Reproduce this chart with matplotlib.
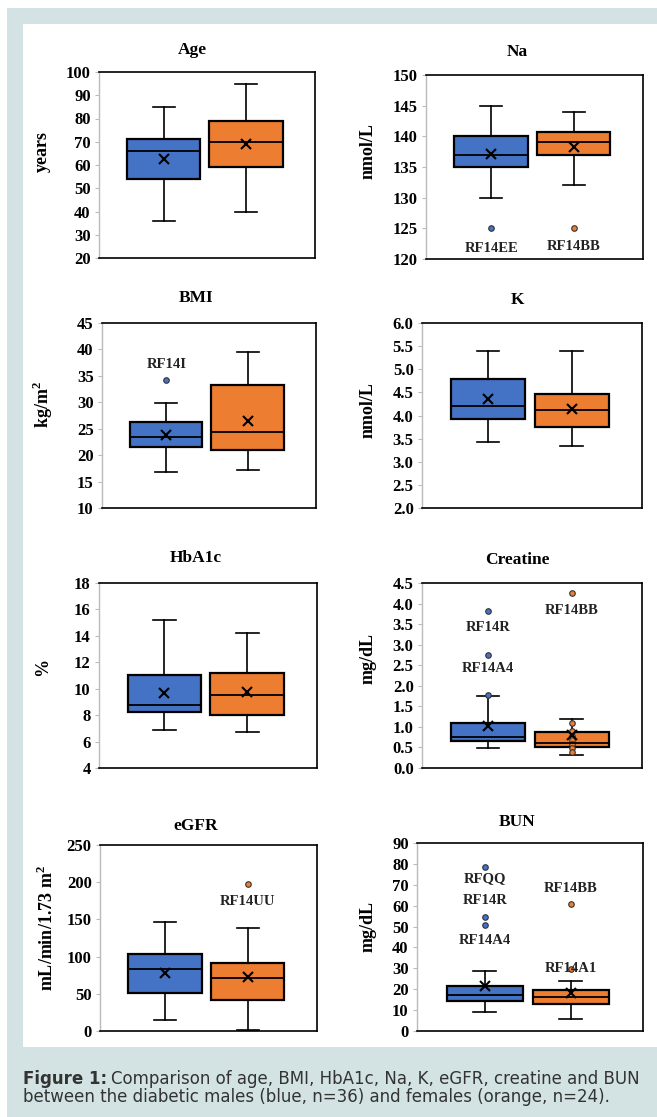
import numpy as np
import matplotlib
matplotlib.use("Agg")
import matplotlib.pyplot as plt
from matplotlib.patches import Rectangle

W, H = 657, 1117
DPI = 100

# --- data: [whisker low, Q1, median, Q3, whisker high, mean] ---
age_m = [36, 54, 66, 71, 85, 62.5]
age_f = [40, 59, 70, 79, 95, 69]
na_m = [130, 135, 137, 140, 145, 137.1]
na_f = [132, 137, 139, 140.7, 144, 138.3]
bmi_m = [16.8, 21.5, 23.4, 26.3, 29.9, 23.8]
bmi_f = [17.1, 21.0, 24.4, 33.2, 39.5, 26.4]
k_m = [3.42, 3.92, 4.21, 4.80, 5.39, 4.35]
k_f = [3.33, 3.75, 4.11, 4.46, 5.39, 4.15]
hba1c_m = [6.9, 8.26, 8.74, 11.06, 15.2, 9.7]
hba1c_f = [6.76, 8.04, 9.52, 11.16, 14.22, 9.78]
creat_m = [0.48, 0.665, 0.75, 1.10, 1.74, 1.03]
creat_f = [0.32, 0.51, 0.62, 0.87, 1.18, 0.81]
egfr_m = [14.8, 51.2, 83.9, 103.2, 146, 78.5]
egfr_f = [1.8, 41.3, 71.8, 92, 139, 72.7]
bun_m = [9.3, 14.6, 17.3, 21.6, 28.7, 21.5]
bun_f = [5.6, 12.8, 16.3, 19.4, 23.9, 18.3]

# outliers / shown points
na_out_m = [125.1]
na_out_f = [125]
bmi_out_m = [34.3]
creat_out_m = [1.78, 2.76, 3.83]
creat_out_f = [4.25, 1.09, 0.89, 0.79, 0.69, 0.59, 0.48, 0.38]
egfr_out_f = [197]
bun_out_m = [78.5, 54.6, 50.9]
bun_out_f = [60.9, 29.5]

# point labels: (text, group, value)
na_labels = [("RF14EE", 1, 121.7), ("RF14BB", 2, 122)]
bmi_labels = [("RF14I", 1, 37.2)]
creat_labels = [("RF14R", 1, 3.41), ("RF14A4", 1, 2.42), ("RF14BB", 2, 3.82)]
egfr_labels = [("RF14UU", 2, 173.7)]
bun_labels = [("RFQQ", 1, 72.9), ("RF14R", 1, 62.3), ("RF14A4", 1, 43.4),
              ("RF14BB", 2, 68.4), ("RF14A1", 2, 29.9)]

panels = [
    dict(title="Age", ylabel="years", m=age_m, f=age_f, om=[], of=[], labels=[],
         ylim=(20, 100), step=10, fmt="{:.0f}",
         rect=(99, 72, 315, 258), tpos=(192, 50), lpos=(42, 152)),
    dict(title="Na", ylabel="nmol/L", m=na_m, f=na_f, om=na_out_m, of=na_out_f, labels=na_labels,
         ylim=(120, 150), step=5, fmt="{:.0f}",
         rect=(426, 75, 643, 259), tpos=(517, 52), lpos=(368, 151)),
    dict(title="BMI", ylabel="kg/m$^\\mathbf{2}$", m=bmi_m, f=bmi_f, om=bmi_out_m, of=[], labels=bmi_labels,
         ylim=(10, 45), step=5, fmt="{:.0f}",
         rect=(102, 323, 316, 508), tpos=(196, 298), lpos=(43, 405)),
    dict(title="K", ylabel="nmol/L", m=k_m, f=k_f, om=[], of=[], labels=[],
         ylim=(2.0, 6.0), step=0.5, fmt="{:.1f}",
         rect=(422, 323, 642, 508), tpos=(517, 300), lpos=(368, 410)),
    dict(title="HbA1c", ylabel="%", m=hba1c_m, f=hba1c_f, om=[], of=[], labels=[],
         ylim=(4, 18), step=2, fmt="{:.0f}",
         rect=(99, 583, 317, 768), tpos=(196, 558), lpos=(43, 667)),
    dict(title="Creatine", ylabel="mg/dL", m=creat_m, f=creat_f, om=creat_out_m, of=creat_out_f,
         labels=creat_labels, ylim=(0, 4.5), step=0.5, fmt="{:.1f}",
         rect=(422, 583, 642, 768), tpos=(517, 560), lpos=(368, 659)),
    dict(title="eGFR", ylabel="mL/min/1.73 m$^\\mathbf{2}$", m=egfr_m, f=egfr_f, om=[], of=egfr_out_f,
         labels=egfr_labels, ylim=(0, 250), step=50, fmt="{:.0f}",
         rect=(100, 845, 317, 1031), tpos=(196, 826), lpos=(47, 928)),
    dict(title="BUN", ylabel="mg/dL", m=bun_m, f=bun_f, om=bun_out_m, of=bun_out_f, labels=bun_labels,
         ylim=(0, 90), step=10, fmt="{:.0f}",
         rect=(417, 843, 643, 1031), tpos=(517, 822), lpos=(368, 927)),
]

BLUE = "#4472C4"
ORANGE = "#ED7D31"
TEAL = "#d3e3e3"
SERIF = "Liberation Serif"

plt.rcParams["mathtext.fontset"] = "custom"
plt.rcParams["mathtext.bf"] = "Liberation Serif:bold"
plt.rcParams["mathtext.rm"] = "Liberation Serif"

fig = plt.figure(figsize=(W / DPI, H / DPI), dpi=DPI, facecolor="white")


def fx(x):
    return x / W


def fy(y):
    return 1 - y / H


# background: teal frame, white panel
fig.patches.append(Rectangle((fx(7), 0), 1 - fx(7), fy(8), transform=fig.transFigure,
                             facecolor=TEAL, edgecolor="none", zorder=-2))
fig.patches.append(Rectangle((fx(23), fy(1047)), 1 - fx(23), fy(24) - fy(1047),
                             transform=fig.transFigure, facecolor="white", edgecolor="none", zorder=-1))


def make_stats(v, out):
    return dict(whislo=v[0], q1=v[1], med=v[2], q3=v[3], whishi=v[4], mean=v[5], fliers=out)


for p in panels:
    l, t, r, b = p["rect"]
    ax = fig.add_axes([fx(l), fy(b), fx(r - l), (b - t) / H])
    stats = [make_stats(p["m"], p["om"]), make_stats(p["f"], p["of"])]
    bp = ax.bxp(stats, positions=[1, 2], widths=0.89, capwidths=0.27,
                showmeans=True, patch_artist=True,
                boxprops=dict(edgecolor="black", linewidth=1.6),
                medianprops=dict(color="black", linewidth=1.3),
                whiskerprops=dict(color="black", linewidth=1.2),
                capprops=dict(color="black", linewidth=1.2),
                meanprops=dict(marker="x", markeredgecolor="black", markersize=7,
                               markeredgewidth=1.5),
                flierprops=dict(marker="o", markersize=4, markeredgecolor="#333333",
                                markeredgewidth=0.8))
    for patch, c in zip(bp["boxes"], [BLUE, ORANGE]):
        patch.set_facecolor(c)
    for fl, c in zip(bp["fliers"], [BLUE, ORANGE]):
        fl.set_markerfacecolor(c)

    for text, g, val in p["labels"]:
        ax.text(g, val, text, ha="center", va="center", fontsize=10.5,
                fontfamily=SERIF, fontweight="bold", color="#222222")

    ax.set_xlim(0.21, 2.84)
    lo, hi = p["ylim"]
    ticks = np.arange(lo, hi + p["step"] / 2, p["step"])
    ax.set_ylim(lo, hi)
    ax.set_yticks(ticks)
    ax.set_yticklabels([p["fmt"].format(v) for v in ticks], fontfamily=SERIF,
                       fontweight="bold", fontsize=12)
    ax.set_xticks([])
    ax.tick_params(axis="y", length=3, width=0.8, color="#bbbbbb", pad=3)
    for s in ["top", "right", "bottom"]:
        ax.spines[s].set_color("black")
        ax.spines[s].set_linewidth(1.2)
    ax.spines["left"].set_color("#bbbbbb")
    ax.spines["left"].set_linewidth(1.0)

    fig.text(fx(p["tpos"][0]), fy(p["tpos"][1]), p["title"], ha="center", va="center",
             fontsize=12.5, fontfamily=SERIF, fontweight="bold")
    fig.text(fx(p["lpos"][0]), fy(p["lpos"][1]), p["ylabel"], ha="center", va="center",
             rotation=90, fontsize=13, fontfamily=SERIF, fontweight="bold")

# caption
CAP_FS = 12
CAP_FONT = "DejaVu Sans"
cap_bold = fig.text(fx(23), fy(1084), "Figure 1:", fontsize=CAP_FS, fontfamily=CAP_FONT,
                    fontweight="bold", color="#333333", va="baseline")
renderer = fig.canvas.get_renderer()
bb = cap_bold.get_window_extent(renderer)
fig.text(bb.x1 / W + fx(4), fy(1084),
         "Comparison of age, BMI, HbA1c, Na, K, eGFR, creatine and BUN",
         fontsize=CAP_FS, fontfamily=CAP_FONT, color="#333333", va="baseline")
fig.text(fx(23), fy(1102),
         "between the diabetic males (blue, n=36) and females (orange, n=24).",
         fontsize=CAP_FS, fontfamily=CAP_FONT, color="#333333", va="baseline")

fig.savefig("out.png", dpi=DPI, facecolor="white")
